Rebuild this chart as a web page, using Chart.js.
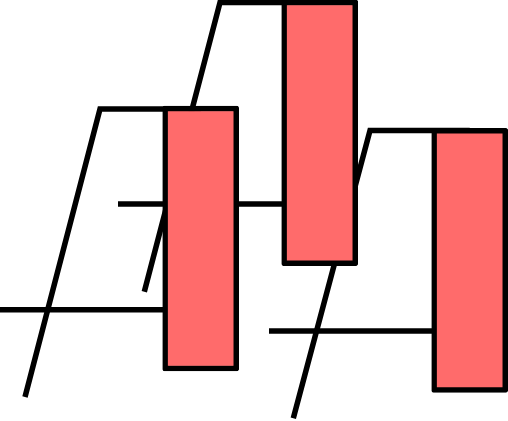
<!DOCTYPE html>
<html>
<head>
<meta charset="utf-8">
<script src="https://cdn.jsdelivr.net/npm/chart.js@4/dist/chart.umd.min.js"></script>
<style>
  html, body { margin: 0; padding: 0; background: #fff; }
  #wrap { width: 508px; height: 421px; }
</style>
</head>
<body>
<div id="wrap"><canvas id="c" width="508" height="421"></canvas></div>
<script>
// Bars (floating): position, top value, bottom value
const barX      = [200.7, 319.7, 469.7];
const barTop    = [106, 0, 128.3];
const barBottom = [371, 265.7, 392.3];

// Slanted lines: start (low end) and top corner, then run flat to the bar
const slantStartX = [25, 144.3, 293.3];
const slantStartY = [397, 291.7, 418.3];
const slantTopX   = [100, 220, 370];
const slantTopY   = [109, 2.5, 130.5];

// Flat lines running into each bar
const flatStartX = [-2, 118, 269];
const flatY      = [309.7, 204, 331];

const BLACK = '#000000';
const RED = '#FF6B6B';

const datasets = [{
  type: 'bar',
  data: barX.map((x, i) => ({ x: x, y: [barTop[i], barBottom[i]] })),
  backgroundColor: RED,
  borderColor: BLACK,
  borderWidth: 5.5,
  borderSkipped: false,
  borderRadius: 2,
  barThickness: 76,
  order: 0
}];

barX.forEach((bx, i) => {
  datasets.push({
    type: 'line',
    data: [
      { x: slantStartX[i], y: slantStartY[i] },
      { x: slantTopX[i], y: slantTopY[i] },
      { x: bx, y: slantTopY[i] }
    ],
    borderColor: BLACK,
    borderWidth: 5.5,
    borderCapStyle: 'butt',
    borderJoinStyle: 'miter',
    pointRadius: 0,
    tension: 0,
    fill: false,
    order: 1
  });
  datasets.push({
    type: 'line',
    data: [
      { x: flatStartX[i], y: flatY[i] },
      { x: bx, y: flatY[i] }
    ],
    borderColor: BLACK,
    borderWidth: 5.5,
    borderCapStyle: 'butt',
    pointRadius: 0,
    tension: 0,
    fill: false,
    order: 1
  });
});

new Chart(document.getElementById('c'), {
  type: 'line',
  data: { datasets },
  options: {
    responsive: false,
    animation: false,
    layout: { padding: 0 },
    plugins: { legend: { display: false }, tooltip: { enabled: false } },
    scales: {
      x: { type: 'linear', display: false, min: 0, max: 508, offset: false, grid: { offset: false } },
      y: { type: 'linear', display: false, min: 0, max: 421, reverse: true }
    }
  }
});
</script>
</body>
</html>
